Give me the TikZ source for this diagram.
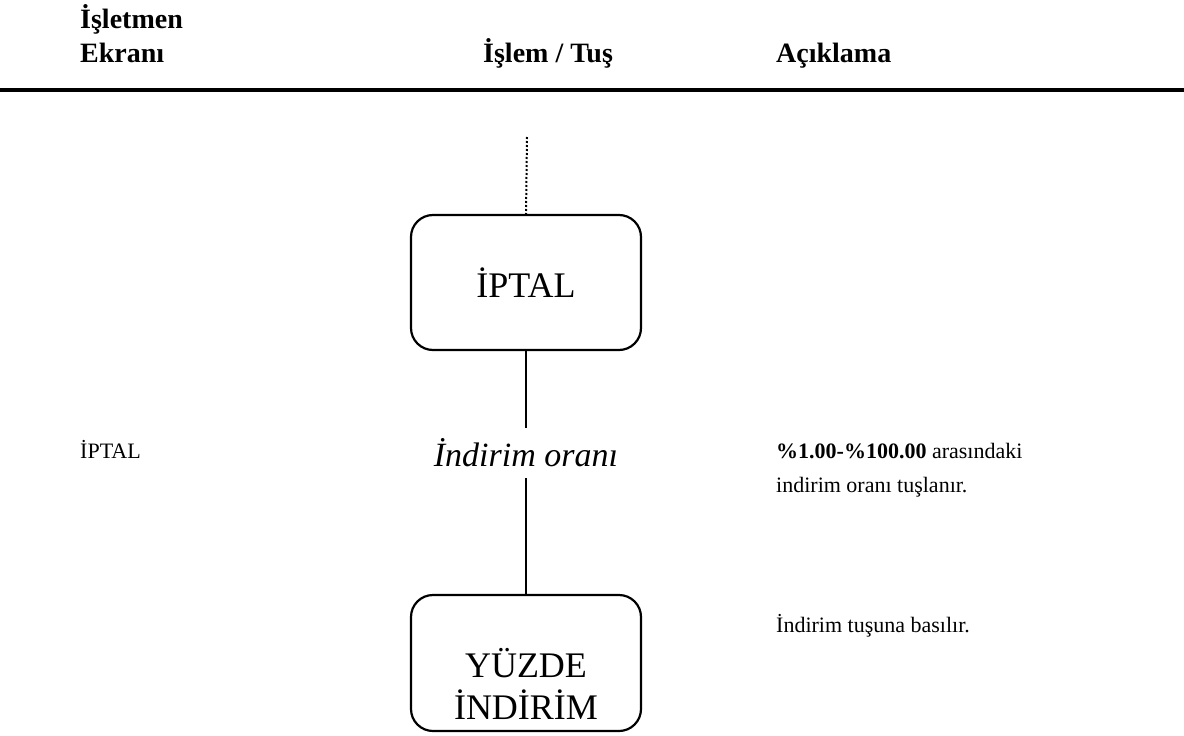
\documentclass[tikz,border=0pt]{standalone}
\usepackage{fontspec}
\setmainfont{Liberation Serif}
\begin{document}
\begin{tikzpicture}[x=1pt,y=-1pt,
  hdr/.style={font=\fontsize{28}{32}\selectfont\bfseries, anchor=base west, inner sep=0pt, align=left},
  body/.style={font=\fontsize{22}{34}\selectfont, anchor=base west, inner sep=0pt, align=left},
  keybox/.style={draw, line width=2.2pt, rounded corners=22pt, minimum width=230pt, inner sep=0pt, font=\fontsize{36}{42}\selectfont, align=center},
  conn/.style={line width=2pt},
  dotconn/.style={line width=2pt, dotted}]
\useasboundingbox (0,0) rectangle (1184,736);
% header
\node[hdr] (h1a) at (80,28) {İşletmen};
\node[hdr] (h1b) at (80,62) {Ekranı};
\node[hdr] (h2) at (483,62) {İşlem / Tuş};
\node[hdr] (h3) at (776,62) {Açıklama};
\coordinate (rl) at (0,90);
\coordinate (rr) at (1184,90);
\draw[line width=4pt] (rl) -- (rr);
% flow
\coordinate (dottop) at (527,137);
\node[keybox, minimum height=135pt] (iptal) at (526,282.5) {İPTAL};
\node[inner sep=0pt, minimum height=50pt, font=\fontsize{34}{40}\selectfont\itshape] (oran) at (526,453) {İndirim oranı};
\node[keybox, minimum height=136pt] (yuzde) at (526,663) {};
\node[inner sep=0pt, font=\fontsize{36}{42}\selectfont, align=center] (yuzdetxt) at (526,684) {YÜZDE\\İNDİRİM};
\draw[dotconn] (dottop) -- (iptal.north);
\draw[conn] (iptal.south) -- (oran.north);
\draw[conn] (oran.south) -- (yuzde.north);
% left column
\node[body] (ekran) at (80,458) {İPTAL};
% right column
\node[body] (ac1) at (776,492) {\textbf{\%1.00-\%100.00} arasındaki\\indirim oranı tuşlanır.};
\node[body] (ac2) at (776,632) {İndirim tuşuna basılır.};
\end{tikzpicture}
\end{document}
